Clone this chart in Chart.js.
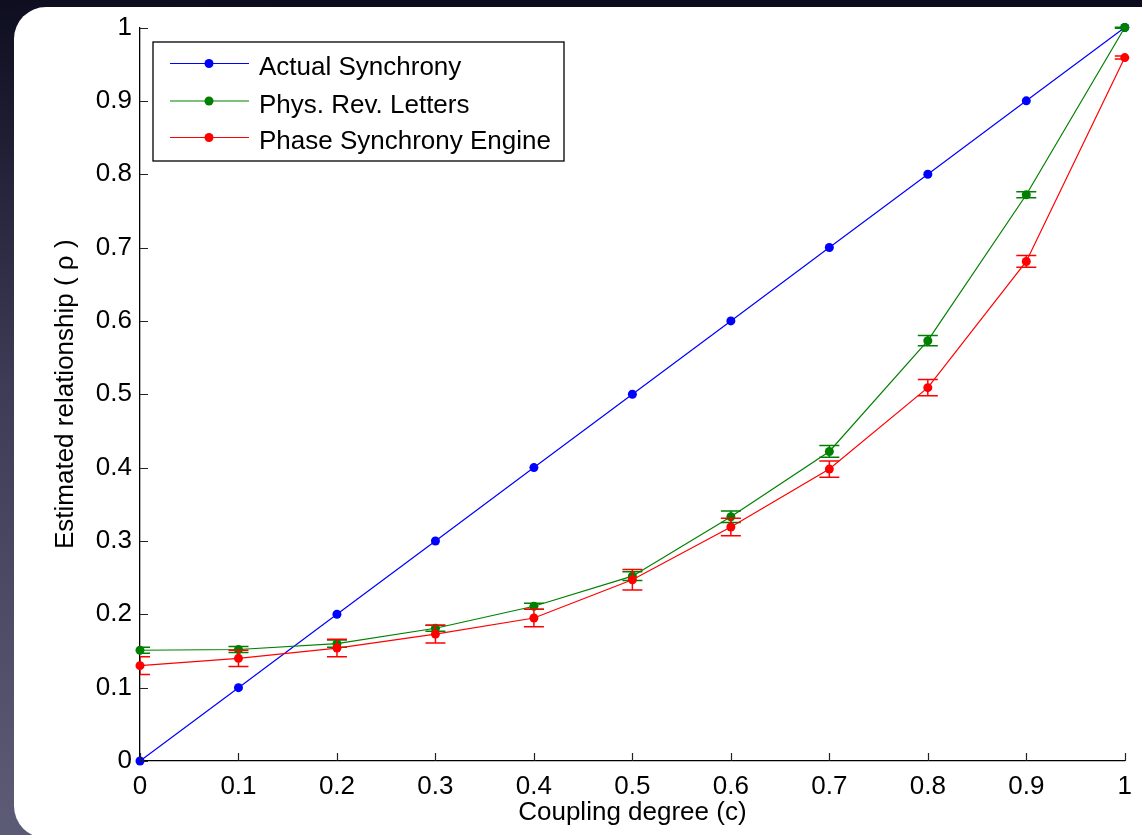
<!DOCTYPE html>
<html>
<head>
<meta charset="utf-8">
<script src="https://cdn.jsdelivr.net/npm/chart.js@4.4.1/dist/chart.umd.min.js"></script>
<style>
  html, body { margin: 0; padding: 0; width: 1142px; height: 835px; overflow: hidden; }
  body { background: radial-gradient(ellipse 140% 120% at 0% 100%, #5c5c76 0%, #3c3c56 45%, #0c0c1e 85%); position: relative; }
  #panel { position: absolute; left: 14px; top: 7px; width: 1160px; height: 831px; background: #fff; border-radius: 32px; }
  #wrap { position: absolute; left: 0; top: 0; width: 1142px; height: 835px; }
</style>
</head>
<body>
<div id="panel"></div>
<div id="wrap"><canvas id="c" width="1142" height="835"></canvas></div>
<script>
// ---- data ----
const coupling = [0, 0.1, 0.2, 0.3, 0.4, 0.5, 0.6, 0.7, 0.8, 0.9, 1.0];
const actualSync = [0, 0.1, 0.2, 0.3, 0.4, 0.5, 0.6, 0.7, 0.8, 0.9, 1.0];
const prlValues = [0.151, 0.152, 0.160, 0.181, 0.211, 0.252, 0.333, 0.422, 0.573, 0.772, 1.0];
const prlErrors = [0.004, 0.004, 0.005, 0.004, 0.004, 0.006, 0.008, 0.008, 0.007, 0.004, 0.001];
const pseValues = [0.130, 0.140, 0.154, 0.173, 0.195, 0.247, 0.319, 0.398, 0.509, 0.681, 0.959];
const pseErrors = [0.012, 0.011, 0.012, 0.012, 0.012, 0.014, 0.012, 0.011, 0.011, 0.008, 0.002];
const seriesLabels = ['Actual Synchrony', 'Phys. Rev. Letters', 'Phase Synchrony Engine'];
const xTickValues = [0, 0.1, 0.2, 0.3, 0.4, 0.5, 0.6, 0.7, 0.8, 0.9, 1];
const xTickLabels = ['0', '0.1', '0.2', '0.3', '0.4', '0.5', '0.6', '0.7', '0.8', '0.9', '1'];
const yTickValues = [0, 0.1, 0.2, 0.3, 0.4, 0.5, 0.6, 0.7, 0.8, 0.9, 1];
const yTickLabels = ['0', '0.1', '0.2', '0.3', '0.4', '0.5', '0.6', '0.7', '0.8', '0.9', '1'];
const xTitle = 'Coupling degree (c)';
const yTitle = 'Estimated relationship ( \u03C1 )';

const FONT = '"Liberation Sans", Arial, Helvetica, sans-serif';
const FS = 26;

function pts(vals) { return coupling.map((x, i) => ({x: x, y: vals[i]})); }

const errorBarPlugin = {
  id: 'errorBars',
  beforeDatasetDraw(chart, args) {
    const ds = chart.data.datasets[args.index];
    if (!ds.errors) return;
    const {ctx, chartArea, scales: {x, y}} = chart;
    ctx.save();
    ctx.beginPath();
    ctx.rect(chartArea.left, chartArea.top - 1, chartArea.right - chartArea.left, chartArea.bottom - chartArea.top + 2);
    ctx.clip();
    ctx.strokeStyle = ds.borderColor;
    ctx.lineWidth = 1.5;
    ds.data.forEach((p, i) => {
      const e = ds.errors[i];
      const px = x.getPixelForValue(p.x);
      const y1 = y.getPixelForValue(p.y + e);
      const y2 = y.getPixelForValue(p.y - e);
      ctx.beginPath();
      ctx.moveTo(px, y1); ctx.lineTo(px, y2);
      ctx.moveTo(px - 10, y1); ctx.lineTo(px + 10, y1);
      ctx.moveTo(px - 10, y2); ctx.lineTo(px + 10, y2);
      ctx.stroke();
    });
    ctx.restore();
  }
};

const ticksPlugin = {
  id: 'inTicks',
  afterDraw(chart) {
    const {ctx, chartArea, scales: {x, y}} = chart;
    ctx.save();
    ctx.strokeStyle = '#222';
    ctx.lineWidth = 1.2;
    ctx.beginPath();
    x.ticks.forEach(t => {
      const px = Math.round(x.getPixelForValue(t.value)) + 0.5;
      ctx.moveTo(px, chartArea.bottom); ctx.lineTo(px, chartArea.bottom - 8);
    });
    y.ticks.forEach(t => {
      const py = Math.round(y.getPixelForValue(t.value)) + 0.5;
      ctx.moveTo(chartArea.left, py); ctx.lineTo(chartArea.left + 8, py);
    });
    ctx.stroke();
    ctx.restore();
  }
};

const legendPlugin = {
  id: 'boxLegend',
  afterDraw(chart) {
    const {ctx, chartArea} = chart;
    const bx = chartArea.left + 13, by = chartArea.top + 14.5, bw = 411, bh = 119;
    ctx.save();
    ctx.fillStyle = '#fff';
    ctx.fillRect(bx, by, bw, bh);
    ctx.strokeStyle = '#000';
    ctx.lineWidth = 1.3;
    ctx.strokeRect(bx, by, bw, bh);
    ctx.font = FS + 'px ' + FONT;
    ctx.textBaseline = 'alphabetic';
    ctx.textAlign = 'left';
    const rows = [by + 21.5, by + 59, by + 95.5];
    chart.data.datasets.forEach((ds, i) => {
      const ry = rows[i];
      ctx.strokeStyle = ds.borderColor;
      ctx.lineWidth = 1.2;
      ctx.beginPath();
      ctx.moveTo(bx + 17, ry); ctx.lineTo(bx + 96, ry);
      ctx.stroke();
      ctx.fillStyle = ds.borderColor;
      ctx.beginPath();
      ctx.arc(bx + 56, ry, 4.5, 0, Math.PI * 2);
      ctx.fill();
      ctx.fillStyle = '#000';
      ctx.fillText(ds.label, bx + 106, ry + 11.5);
    });
    ctx.restore();
  }
};

const colors = ['#0000ff', '#008000', '#ff0000'];
const values = [actualSync, prlValues, pseValues];
const errors = [null, prlErrors, pseErrors];

const datasets = values.map((v, i) => ({
  label: seriesLabels[i],
  data: pts(v),
  errors: errors[i],
  borderColor: colors[i],
  backgroundColor: colors[i],
  borderWidth: 1.2,
  pointRadius: 4.5,
  pointBorderWidth: 0,
  pointBackgroundColor: colors[i],
  pointHoverRadius: 4.5,
  tension: 0,
  clip: false,
  order: 3 - i
}));

new Chart(document.getElementById('c'), {
  type: 'line',
  data: { datasets: datasets },
  plugins: [errorBarPlugin, ticksPlugin, legendPlugin],
  options: {
    responsive: false,
    animation: false,
    layout: { padding: { left: 0, right: 14.8, top: 27.5, bottom: 0 } },
    plugins: { legend: { display: false }, tooltip: { enabled: false } },
    scales: {
      x: {
        type: 'linear', min: 0, max: 1,
        afterFit: s => { s.height = 74; },
        afterBuildTicks: s => { s.ticks = xTickValues.map(v => ({value: v})); },
        grid: { display: false, drawTicks: false, tickLength: 0 },
        border: { display: true, color: '#000', width: 1.3 },
        ticks: { padding: 10, color: '#000', font: { family: FONT, size: FS }, maxRotation: 0, autoSkip: false,
                 callback: (v, i) => xTickLabels[i] },
        title: { display: true, text: xTitle, color: '#000', font: { family: FONT, size: FS }, padding: { top: 0, bottom: 7 } }
      },
      y: {
        type: 'linear', min: 0, max: 1,
        afterFit: s => { s.width = 140; },
        afterBuildTicks: s => { s.ticks = yTickValues.map(v => ({value: v})); },
        grid: { display: false, drawTicks: false, tickLength: 0 },
        border: { display: true, color: '#000', width: 1.3 },
        ticks: { padding: 8, color: '#000', font: { family: FONT, size: FS }, autoSkip: false,
                 callback: (v, i) => yTickLabels[i] },
        title: { display: true, text: yTitle, color: '#000', font: { family: FONT, size: FS }, padding: { top: 50, bottom: 0 } }
      }
    }
  }
});
</script>
</body>
</html>
